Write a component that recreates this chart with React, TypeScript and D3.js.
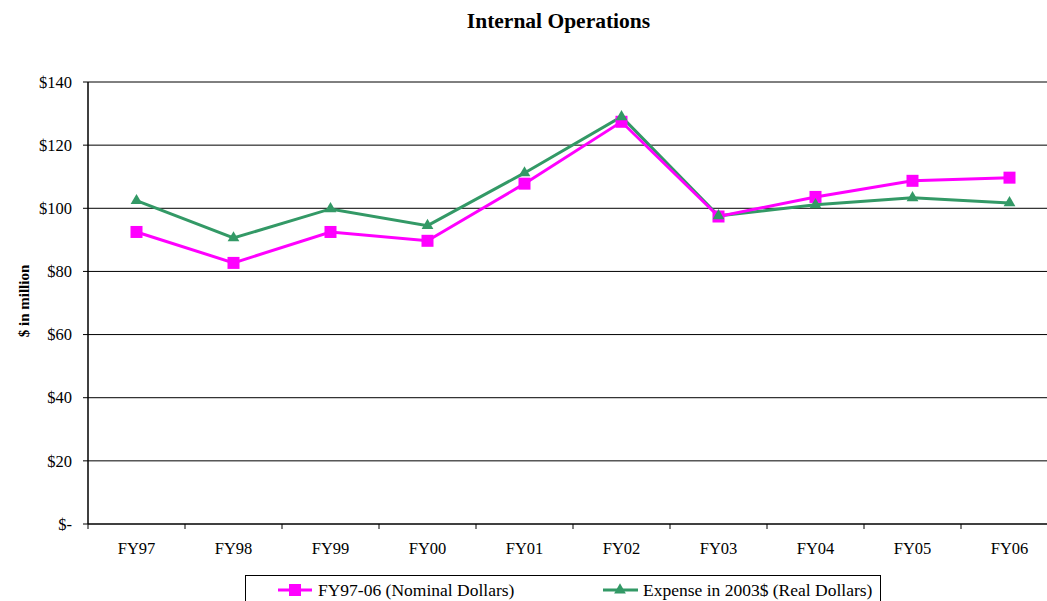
import * as d3 from "d3";

const categories = ["FY97", "FY98", "FY99", "FY00", "FY01", "FY02", "FY03", "FY04", "FY05", "FY06"];
const nominal = [92.5, 82.7, 92.5, 89.7, 107.8, 127.4, 97.4, 103.6, 108.7, 109.7];
const real = [102.4, 90.6, 99.8, 94.5, 111.2, 129.0, 97.6, 101.1, 103.3, 101.7];
const yTicks = [0, 20, 40, 60, 80, 100, 120, 140];
const seriesNames = ["FY97-06 (Nominal Dollars)", "Expense in 2003$ (Real Dollars)"];

const font = "'Liberation Serif', 'Times New Roman', serif";
const magenta = "#FF00FF";
const green = "#339966";

export default function App() {
  const width = 1047;
  const height = 601;
  const margin = { top: 82, left: 88, bottom: 524 };

  const x = d3.scaleBand().domain(categories).range([margin.left, margin.left + 97 * categories.length]);
  const y = d3.scaleLinear().domain([0, 140]).range([margin.bottom, margin.top]);
  const cx = (c: string) => (x(c) ?? 0) + x.bandwidth() / 2;

  const line = d3.line<number>().x((_, i) => cx(categories[i])).y((d) => y(d));
  const tri = d3.symbol().type(d3.symbolTriangle).size(60)();

  return (
    <svg width={width} height={height} style={{ position: "absolute", left: 0, top: 0 }} fontFamily={font}>
      <rect width={width} height={height} fill="#fff" />
      <text x={558.5} y={28} textAnchor="middle" fontSize={21.5} fontWeight="bold">Internal Operations</text>

      {yTicks.map((t) => (
        <g key={t}>
          {t > 0 && <line x1={margin.left} x2={width} y1={y(t)} y2={y(t)} stroke="#000" strokeWidth={1} />}
          <line x1={margin.left - 5} x2={margin.left} y1={y(t)} y2={y(t)} stroke="#000" />
          <text x={72} y={y(t)} dy="0.35em" textAnchor="end" fontSize={16.5}>{t === 0 ? "$-" : `$${t}`}</text>
        </g>
      ))}
      <line x1={margin.left} x2={margin.left} y1={margin.top} y2={margin.bottom} stroke="#000" strokeWidth={1.5} />
      <line x1={margin.left} x2={width} y1={margin.bottom} y2={margin.bottom} stroke="#000" strokeWidth={1.5} />
      {categories.map((c) => (
        <g key={c}>
          <line x1={x(c)} x2={x(c)} y1={margin.bottom} y2={margin.bottom + 5} stroke="#000" />
          <text x={cx(c)} y={554} textAnchor="middle" fontSize={16.5}>{c}</text>
        </g>
      ))}
      <text transform={`translate(29,301) rotate(-90)`} textAnchor="middle" fontSize={15} fontWeight="bold">$ in million</text>

      <path d={line(real) ?? ""} fill="none" stroke={green} strokeWidth={3} />
      <path d={line(nominal) ?? ""} fill="none" stroke={magenta} strokeWidth={3} />
      {nominal.map((v, i) => (
        <rect key={`n${i}`} x={cx(categories[i]) - 6} y={y(v) - 6} width={12} height={12} fill={magenta} />
      ))}
      {real.map((v, i) => (
        <path key={`r${i}`} d={tri ?? ""} transform={`translate(${cx(categories[i])},${y(v)})`} fill={green} />
      ))}

      <rect x={245.5} y={575.5} width={635} height={40} fill="#fff" stroke="#000" />
      <line x1={278} x2={312} y1={590} y2={590} stroke={magenta} strokeWidth={3} />
      <rect x={289} y={584} width={12} height={12} fill={magenta} />
      <text x={318} y={596} fontSize={17.5}>{seriesNames[0]}</text>
      <line x1={603} x2={638} y1={590} y2={590} stroke={green} strokeWidth={3} />
      <path d={tri ?? ""} transform="translate(620,590)" fill={green} />
      <text x={643} y={596} fontSize={17.5}>{seriesNames[1]}</text>
    </svg>
  );
}
